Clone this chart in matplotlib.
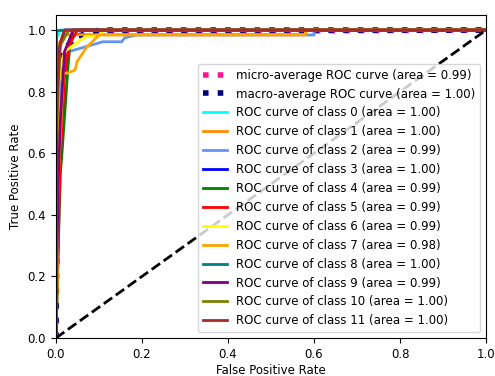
import numpy as np
import matplotlib
matplotlib.use("Agg")
import matplotlib.pyplot as plt

# ROC points
micro_fpr = [0.0, 0.0, 0.005, 0.01, 0.02, 0.04, 0.08, 0.2, 1.0]
micro_tpr = [0.0, 0.45, 0.70, 0.86, 0.93, 0.97, 0.99, 0.995, 1.0]
micro_auc = 0.99

macro_fpr = [0.0, 0.005, 0.01, 0.02, 0.05, 0.1, 1.0]
macro_tpr = [0.0, 0.75, 0.88, 0.94, 0.98, 1.0, 1.0]
macro_auc = 1.00

class_fpr = [
    [0.0, 0.0, 0.01, 1.0],
    [0.0, 0.0, 0.005, 0.02, 0.58, 0.58, 1.0],
    [0.0, 0.005, 0.01, 0.03, 0.109, 0.153, 0.16, 0.188, 0.6, 0.6, 1.0],
    [0.0, 0.0, 0.02, 1.0],
    [0.0, 0.01, 0.014, 0.028, 0.033, 0.04, 1.0],
    [0.0, 0.005, 0.01, 0.02, 0.03, 0.05, 1.0],
    [0.0, 0.003, 0.005, 0.01, 0.02, 0.04, 0.07, 0.1, 0.11, 1.0],
    [0.0, 0.005, 0.017, 0.026, 0.044, 0.05, 0.06, 0.072, 0.09, 0.1, 0.58, 0.58, 1.0],
    [0.0, 0.0, 1.0],
    [0.0, 0.005, 0.01, 0.02, 0.04, 1.0],
    [0.0, 0.002, 0.01, 0.03, 1.0],
    [0.0, 0.003, 0.01, 0.02, 1.0],
]
class_tpr = [
    [0.0, 0.97, 1.0, 1.0],
    [0.0, 0.85, 0.95, 0.985, 0.985, 1.0, 1.0],
    [0.0, 0.6, 0.85, 0.93, 0.962, 0.962, 0.975, 0.984, 0.984, 1.0, 1.0],
    [0.0, 0.9, 1.0, 1.0],
    [0.0, 0.53, 0.6, 0.88, 0.96, 1.0, 1.0],
    [0.0, 0.3, 0.58, 0.85, 0.95, 1.0, 1.0],
    [0.0, 0.2, 0.8, 0.88, 0.93, 0.95, 0.98, 0.98, 1.0, 1.0],
    [0.0, 0.5, 0.86, 0.86, 0.87, 0.9, 0.92, 0.945, 0.97, 0.984, 0.984, 1.0, 1.0],
    [0.0, 1.0, 1.0],
    [0.0, 0.5, 0.7, 0.93, 1.0, 1.0],
    [0.0, 0.7, 0.95, 1.0, 1.0],
    [0.0, 0.8, 0.96, 1.0, 1.0],
]
class_auc = [1.00, 1.00, 0.99, 1.00, 0.99, 0.99, 0.99, 0.98, 1.00, 0.99, 1.00, 1.00]
colors = ['aqua', 'darkorange', 'cornflowerblue', 'blue', 'green', 'red',
          'yellow', 'orange', 'teal', 'purple', 'olive', 'brown']

plt.rcParams['font.size'] = 8.5

fig = plt.figure(figsize=(4.95, 3.76), dpi=100)
ax = fig.add_axes([0.113, 0.101, 0.869, 0.860])

ax.plot(micro_fpr, micro_tpr, color='deeppink', linestyle=':', linewidth=4,
        label='micro-average ROC curve (area = {0:0.2f})'.format(micro_auc))
ax.plot(macro_fpr, macro_tpr, color='navy', linestyle=':', linewidth=4,
        label='macro-average ROC curve (area = {0:0.2f})'.format(macro_auc))

for i in range(len(class_fpr)):
    ax.plot(class_fpr[i], class_tpr[i], color=colors[i], lw=2,
            label='ROC curve of class {0} (area = {1:0.2f})'.format(i, class_auc[i]))

ax.plot([0, 1], [0, 1], 'k--', lw=2)
ax.set_xlim([0.0, 1.0])
ax.set_ylim([0.0, 1.05])
ax.set_xlabel('False Positive Rate', labelpad=2)
ax.set_ylabel('True Positive Rate', labelpad=4)
ax.legend(loc="lower right")

fig.savefig('out.png')
